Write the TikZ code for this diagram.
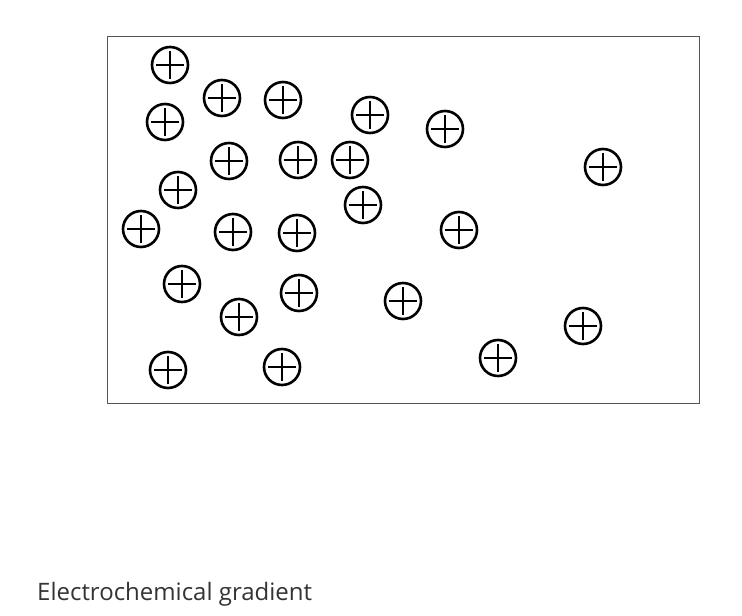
\documentclass[tikz,border=0pt]{standalone}
\usepackage{fontspec}
\setmainfont{Open Sans}
\definecolor{captxt}{HTML}{333333}
\definecolor{boxline}{HTML}{555555}
\begin{document}
\begin{tikzpicture}[x=1pt,y=-1pt,
  ion/.style={circle,draw=black,line width=2.6pt,minimum size=36pt,inner sep=0pt},
  plusbar/.style={draw=black,line width=2.6pt},
  frame/.style={draw=boxline,line width=1.4pt}]
\useasboundingbox (0,0) rectangle (742,616);
\node[frame,minimum width=592pt,minimum height=367pt,inner sep=0pt,anchor=north west] (box) at (107,36) {};
\foreach \x/\y [count=\i] in {170/65,222/98,283/100,165/122,370/115,229/161,298/160,350/160,178/190,363/205,
  141/229,233/232,297/233,182/284,299/293,239/317,403/301,168/370,282/367,
  445/129,603/167,459/230,583/326,498/358}
  {\node[ion] (p\i) at (\x,\y) {};
   \draw[plusbar] ([xshift=-14pt]p\i.center) -- ([xshift=14pt]p\i.center);
   \draw[plusbar] ([yshift=-14pt]p\i.center) -- ([yshift=14pt]p\i.center);}
\node[anchor=base west,inner sep=0pt,text=captxt,font=\fontsize{24}{28}\selectfont] (cap) at (37,600) {Electrochemical gradient};
\end{tikzpicture}
\end{document}
